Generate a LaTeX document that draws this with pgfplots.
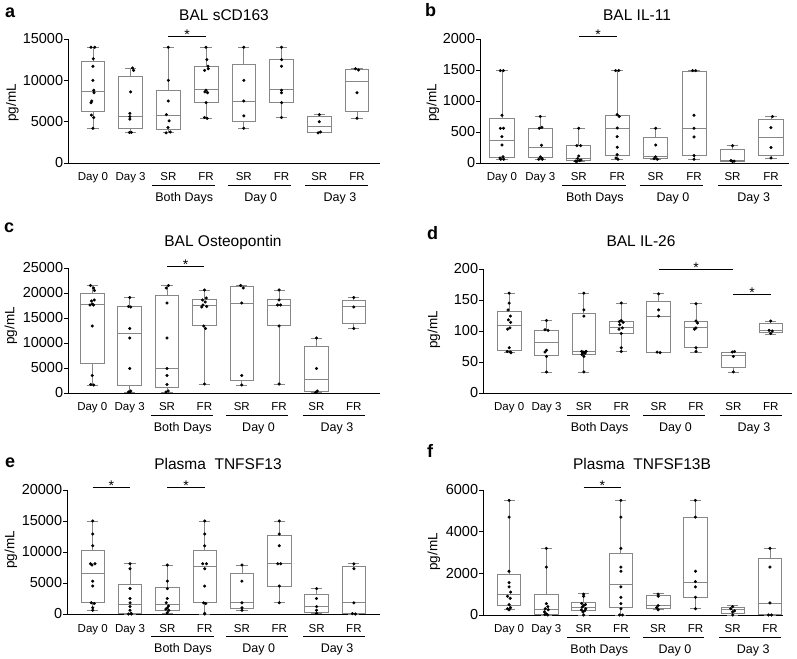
\documentclass[border=0pt]{standalone}
\usepackage{fontspec}
\setmainfont{Liberation Sans}
\usepackage{pgfplots}
\usepgfplotslibrary{statistics}
\pgfplotsset{compat=1.18}
\definecolor{boxgray}{RGB}{135,135,135}
\newcommand{\ftick}{\fontsize{14.5}{16}\selectfont}
\newcommand{\fx}{\fontsize{11.5}{13}\selectfont}
\newcommand{\fgrp}{\fontsize{12.5}{14}\selectfont}
\newcommand{\ftitle}{\fontsize{15.5}{18}\selectfont}
\newcommand{\flab}{\fontsize{13.5}{15}\selectfont}
\newcommand{\fletter}{\fontsize{18}{20}\selectfont\bfseries}
\newcommand{\fstar}{\fontsize{14}{16}\selectfont}
\pgfplotsset{
  panel/.style={
    scale only axis, anchor=south west,
    axis x line=bottom, axis y line=left,
    axis line style={-, line width=0.8pt, black},
    ymin=0, clip=false,
    xtick={0,...,7},
    xticklabels={Day 0,Day 3,SR,FR,SR,FR,SR,FR},
    xtick style={draw=none},
    ytick style={line width=0.8pt, black},
    tick align=outside, major tick length=3.7pt,
    xticklabel style={font=\fx, anchor=base, yshift=-14.3pt},
    yticklabel style={font=\ftick, inner sep=1pt},
    scaled y ticks=false,
    /pgf/number format/1000 sep={},
    /pgf/number format/assume math mode=true,
    boxplot/draw direction=y,
    boxplot/box extend=0.63,
    boxplot/whisker extend=0.3,
  },
  bx/.style={draw=boxgray, line width=0.8pt, solid},
  dots/.style={only marks, mark=*, mark size=1.35pt, black},
}
\newcommand{\bx}[6]{\addplot[bx, boxplot prepared={draw position=#1, lower whisker=#2, lower quartile=#3, median=#4, upper quartile=#5, upper whisker=#6}] coordinates {};}
\newcommand{\groups}{%
  \draw[line width=1pt] ([yshift=-22.7pt]axis cs:1.56,0) -- ([yshift=-22.7pt]axis cs:3.24,0);
  \draw[line width=1pt] ([yshift=-22.7pt]axis cs:3.58,0) -- ([yshift=-22.7pt]axis cs:5.24,0);
  \draw[line width=1pt] ([yshift=-22.7pt]axis cs:5.63,0) -- ([yshift=-22.7pt]axis cs:7.30,0);
  \node[font=\fgrp, anchor=base, inner sep=0pt] at ([yshift=-38.5pt]axis cs:2.42,0) {Both Days};
  \node[font=\fgrp, anchor=base, inner sep=0pt] at ([yshift=-38.5pt]axis cs:4.45,0) {Day 0};
  \node[font=\fgrp, anchor=base, inner sep=0pt] at ([yshift=-38.5pt]axis cs:6.55,0) {Day 3};
}
\newcommand{\sig}[3]{%
  \draw[line width=1.3pt] (axis cs:#1,#3) -- (axis cs:#2,#3);
  \node[font=\fstar, anchor=base, inner sep=0pt] at ([yshift=-3pt]axis cs:{(#1+#2)/2},#3) {*};
}
\begin{document}
\begin{tikzpicture}
\path[use as bounding box] (0pt,0pt) rectangle (797pt,658pt);

% ---------- a ----------
\begin{axis}[panel, at={(68pt,495pt)}, width=312pt, height=124pt,
  xmin=-0.66, xmax=7.61, ymax=15000, ytick={0,5000,10000,15000}]
\bx{0}{4200}{6200}{8700}{12300}{14000}
\bx{1}{3650}{4200}{5650}{10500}{11500}
\bx{2}{3650}{4050}{5770}{8750}{14000}
\bx{3}{5400}{7350}{8850}{11650}{14000}
\bx{4}{4200}{5000}{7500}{11900}{14000}
\bx{5}{5500}{7300}{8850}{12500}{14000}
\bx{6}{3650}{3700}{4400}{5600}{5850}
\bx{7}{5400}{6200}{9850}{11300}{11450}
\addplot[dots] coordinates {
(-0.05,14000) (0.05,14000) (0.01,12600) (0,11700) (0,10000) (0.02,8800) (0.03,8500) (-0.03,7500) (-0.05,7300) (-0.04,5800) (0.02,5500) (0,4200)
(1.05,11500) (1.08,11200) (1,8600) (0.98,6000) (0.98,5600) (0.98,5300) (1.02,3700) (0.97,3700)
(2,14000) (2,10000) (2,7500) (1.95,5850) (2.02,5100) (1.99,4300) (2.05,3750) (1.94,3650)
(3,14000) (3.02,12500) (3.05,11700) (3.06,11400) (2.96,11200) (3,8800) (2.97,8600) (3.04,8500) (3,7300) (2.96,5500) (3.03,5400)
(4,14000) (4,10000) (4,7500) (4,5700) (4,4200)
(5,14000) (5,12500) (5,11700) (5,8800) (5,8500) (5,7300) (5,5500)
(6,5850) (6,5000) (6.03,3750) (5.97,3650)
(6.96,11400) (7.04,11250) (7,8500) (7,5400)
};
\sig{2}{3}{15280}
\groups
\end{axis}
\node[font=\fletter, anchor=base west, inner sep=0pt] at (5pt,640pt) {a};
\node[font=\ftitle, anchor=base] at (224pt,637pt) {BAL sCD163};
\node[font=\flab, rotate=90] at (12.5pt,555pt) {pg/mL};

% ---------- b ----------
\begin{axis}[panel, at={(480pt,495pt)}, width=309pt, height=124pt,
  xmin=-0.57, xmax=7.47, ymax=2000, ytick={0,500,1000,1500,2000}]
\bx{0}{59}{91}{360}{715}{1490}
\bx{1}{60}{91}{253}{560}{750}
\bx{2}{27}{43}{70}{280}{560}
\bx{3}{60}{130}{555}{770}{1490}
\bx{4}{60}{70}{100}{415}{560}
\bx{5}{60}{125}{560}{1480}{1490}
\bx{6}{25}{30}{35}{220}{280}
\bx{7}{80}{130}{415}{700}{750}
\addplot[dots] coordinates {
(-0.04,1490) (0.04,1490) (0,770) (-0.04,560) (0.04,560) (0,425) (0,290) (0.03,100) (-0.05,80) (-0.03,60) (0.05,60)
(1,750) (1.04,575) (0.97,560) (1.03,285) (1,100) (1.04,75) (0.96,60) (1.05,60)
(2,560) (1.95,280) (2.05,280) (2,113) (1.97,70) (2.06,48) (2.02,38) (1.95,27) (1.92,30)
(2.96,1490) (3.04,1490) (3,780) (3.05,750) (3,565) (3,425) (3,253) (3,135) (2.97,80) (3.02,60)
(4,560) (4,290) (4,100) (3.96,70) (4.04,60)
(4.96,1490) (5.04,1490) (5,770) (5,560) (5,420) (5,120) (5,60)
(6,280) (5.96,40) (6.04,30) (6,25)
(7.04,750) (7,570) (7,250) (7,80)
};
\sig{2}{3}{2037}
\groups
\end{axis}
\node[font=\fletter, anchor=base west, inner sep=0pt] at (425pt,641pt) {b};
\node[font=\ftitle, anchor=base] at (637pt,637pt) {BAL IL-11};
\node[font=\flab, rotate=90] at (433pt,555pt) {pg/mL};

% ---------- c ----------
\begin{axis}[panel, at={(68pt,265pt)}, width=312pt, height=125pt,
  xmin=-0.65, xmax=7.7, ymax=25000, ytick={0,5000,10000,15000,20000,25000}]
\bx{0}{1600}{6000}{17800}{20000}{21500}
\bx{1}{100}{1600}{12000}{17300}{19100}
\bx{2}{100}{1100}{5000}{19500}{21500}
\bx{3}{1800}{13500}{17600}{18700}{20600}
\bx{4}{1600}{2600}{18000}{21300}{21500}
\bx{5}{1800}{13500}{17600}{18700}{20600}
\bx{6}{100}{300}{2700}{9400}{11000}
\bx{7}{12900}{14000}{17300}{18500}{19100}
\addplot[dots] coordinates {
(-0.05,21500) (0.03,21000) (0.06,20500) (0.05,18600) (-0.02,18400) (0,17800) (-0.06,17600) (0.03,17600) (0,13400) (0,3500) (-0.04,1700) (0.04,1600)
(1,19100) (0.97,17300) (1.03,17200) (1,12900) (1,11000) (1,4900) (1.03,400) (0.97,200) (1,100)
(2.04,21500) (1.98,21000) (2,18000) (2,11000) (2,4900) (2,3500) (2,1700) (2.03,400) (1.97,200)
(3,20600) (3.05,19000) (2.95,18600) (3.02,18200) (2.96,17600) (3.06,17300) (2.93,17200) (2.98,13400) (3.03,12900) (3,1800)
(3.97,21500) (4.04,21000) (4,18000) (4,3500) (4,1600)
(5,20600) (5,18600) (4.96,17600) (5.04,17600) (5,13400) (5,1800)
(6,11000) (6,4900) (6.02,400) (5.98,100)
(7,19100) (7,17200) (7,12900)
};
\sig{2}{3}{25260}
\groups
\end{axis}
\node[font=\fletter, anchor=base west, inner sep=0pt] at (4pt,425pt) {c};
\node[font=\ftitle, anchor=base] at (223pt,411pt) {BAL Osteopontin};
\node[font=\flab, rotate=90] at (11pt,332pt) {pg/mL};

% ---------- d ----------
\begin{axis}[panel, at={(483pt,265pt)}, width=309pt, height=124pt,
  xmin=-0.70, xmax=7.57, ymax=200, ytick={0,50,100,150,200}]
\bx{0}{66}{69}{109}{131}{161}
\bx{1}{34}{61}{82}{101}{117}
\bx{2}{34}{62}{67}{129}{161}
\bx{3}{67}{96}{105}{116}{145}
\bx{4}{65}{66}{124}{147}{160}
\bx{5}{66}{73}{105}{116}{144}
\bx{6}{33}{41}{61}{65}{66}
\bx{7}{95}{98}{101}{112}{116}
\addplot[dots] coordinates {
(0,161) (0,145) (-0.03,134) (0.03,124) (-0.02,118) (0.04,114) (0.02,105) (-0.04,103) (0,73) (-0.05,67) (0.03,66) (0.05,65)
(1,117) (0.96,102) (1.04,101) (1,69) (0.96,66) (1,59) (1,34)
(2,161) (2,134) (2,124) (1.94,67) (2.06,67) (2,66) (1.97,65) (2.03,64) (1.95,62) (2,59) (2,34)
(3,145) (3,117) (2.95,115) (3.05,114) (2.96,110) (3.03,105) (2.94,103) (3,96) (3,73) (3,67)
(4,160) (4,134) (4,124) (3.96,66) (4.04,65)
(5,144) (5,116) (5.04,113) (5,105) (4.96,103) (5,73) (5,67)
(6.03,67) (5.97,66) (6,59) (6,34)
(7,116) (6.96,101) (7.04,100) (7,96)
};
\sig{4}{6}{199}
\sig{6}{7}{159}
\groups
\end{axis}
\node[font=\fletter, anchor=base west, inner sep=0pt] at (427pt,418pt) {d};
\node[font=\ftitle, anchor=base] at (641pt,411pt) {BAL IL-26};
\node[font=\flab, rotate=90] at (434pt,328pt) {pg/mL};

% ---------- e ----------
\begin{axis}[panel, at={(67pt,44pt)}, width=313pt, height=124pt,
  xmin=-0.69, xmax=7.7, ymax=20000, ytick={0,5000,10000,15000,20000}]
\bx{0}{600}{1800}{6600}{10200}{15000}
\bx{1}{0}{100}{1500}{4700}{8100}
\bx{2}{100}{600}{1500}{4300}{7900}
\bx{3}{0}{1800}{7600}{10200}{15000}
\bx{4}{600}{900}{1800}{6500}{7900}
\bx{5}{1800}{4500}{8200}{12700}{15000}
\bx{6}{100}{300}{1200}{3200}{4100}
\bx{7}{0}{100}{1800}{7600}{8100}
\addplot[dots] coordinates {
(0,15000) (0,12900) (0,11000) (-0.06,8100) (0.06,8100) (-0.02,7900) (0,5300) (0,4500) (-0.04,1800) (0.04,1700) (0,1000) (0,600)
(1,8100) (1,7300) (1,4100) (1,2500) (1,1800) (1,1200) (1,600) (1.03,100) (0.96,0) (1.04,0)
(2,7900) (2,5300) (2,4100) (2,2500) (1.97,1800) (2.03,1300) (2,1000) (1.96,800) (2.04,600) (2,200)
(3,15000) (3,12900) (3,11000) (2.95,8100) (3.05,8100) (3,7300) (3,4500) (2.97,1800) (3.03,1700) (3,100) (3,0)
(4,7900) (4,5300) (4,1800) (4,1000) (4,600)
(5,15000) (5,12900) (5,11000) (4.96,8100) (5.04,8100) (5,4500) (5,1800)
(6,4100) (6,2500) (6,1200) (6,600) (6,100)
(7,8100) (7,7300) (7,1800) (6.96,50) (7.04,0)
};
\sig{0}{1}{20370}
\sig{2}{3}{20370}
\groups
\end{axis}
\node[font=\fletter, anchor=base west, inner sep=0pt] at (5pt,190pt) {e};
\node[font=\ftitle, anchor=base] at (218pt,188pt) {Plasma\ \ TNFSF13};
\node[font=\flab, rotate=90] at (11pt,108pt) {pg/mL};

% ---------- f ----------
\begin{axis}[panel, at={(483pt,43pt)}, width=300pt, height=125pt,
  xmin=-0.70, xmax=7.35, ymax=6000, ytick={0,2000,4000,6000}]
\bx{0}{250}{450}{980}{1950}{5500}
\bx{1}{0}{20}{270}{980}{3200}
\bx{2}{0}{230}{370}{590}{1050}
\bx{3}{0}{380}{1450}{2950}{5500}
\bx{4}{250}{330}{480}{950}{1050}
\bx{5}{300}{850}{1580}{4700}{5500}
\bx{6}{0}{80}{250}{370}{450}
\bx{7}{0}{40}{580}{2700}{3200}
\addplot[dots] coordinates {
(0,5500) (0,4700) (0,2100) (0,1550) (0,1350) (0.04,1100) (-0.04,900) (0.03,800) (0,500) (0.04,350) (-0.04,300) (0,250)
(1,3200) (1,2300) (1,550) (1.04,400) (0.97,300) (1.05,250) (0.95,150) (1,50) (0.96,20) (1.04,0)
(2,1000) (2,900) (1.95,550) (2.05,500) (2,450) (1.96,380) (2.06,300) (1.94,250) (2.03,200) (1.98,150) (2,0)
(3,5500) (3,4700) (3,3200) (3,2300) (3,2100) (3,1350) (3,850) (3,550) (3,300) (2.96,0) (3.04,0)
(4,1000) (4,900) (4,450) (3.96,350) (4,250)
(5,5500) (5,4700) (5,2100) (5,1600) (5,1350) (5,850) (5,300)
(6,400) (5.95,300) (6.05,200) (6,150) (6,0)
(7,3200) (7,2300) (7,580) (6.96,0) (7.04,0)
};
\sig{2}{3}{6110}
\groups
\end{axis}
\node[font=\fletter, anchor=base west, inner sep=0pt] at (427pt,200pt) {f};
\node[font=\ftitle, anchor=base] at (642pt,188pt) {Plasma\ \ TNFSF13B};
\node[font=\flab, rotate=90] at (434pt,106pt) {pg/mL};
\end{tikzpicture}
\end{document}
